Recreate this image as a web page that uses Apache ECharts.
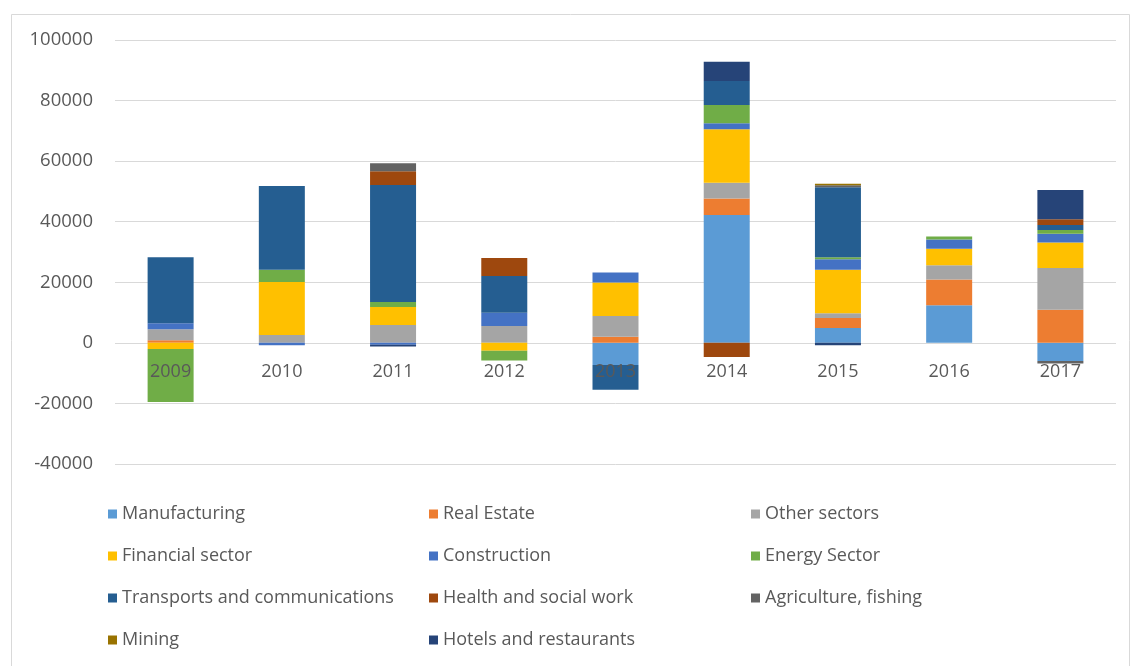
<!DOCTYPE html>
<html>
<head>
<meta charset="utf-8">
<script src="https://cdn.jsdelivr.net/npm/echarts@6/dist/echarts.min.js"></script>
<style>
html,body{margin:0;padding:0;background:#fff;}
#chart{width:1132px;height:666px;}
</style>
</head>
<body>
<div id="chart"></div>
<script>
const years = ['2009','2010','2011','2012','2013','2014','2015','2016','2017'];
const yTicks = {min: -40000, max: 100000, interval: 20000};

const manufacturing = [0, 0, 0, 0, -7300, 42200, 4900, 12400, -6000];
const realEstate    = [900, 0, 0, 0, 2000, 5500, 3300, 8500, 10900];
const otherSectors  = [3600, 2600, 5900, 5600, 6900, 5200, 1600, 4700, 13800];
const financial     = [-2000, 17500, 5900, -2600, 11000, 17600, 14300, 5500, 8400];
const construction  = [2000, -800, -600, 4300, 3300, 2000, 3500, 3000, 2900];
const energy        = [-17500, 4000, 1700, -3200, 0, 6000, 700, 1000, 1300];
const transports    = [21800, 27700, 38600, 12200, -8200, 8000, 23100, 0, 1600];
const health        = [0, 0, 4600, 5900, 0, -4700, 0, 0, 1900];
const agriculture   = [0, 0, 2600, 0, 0, 0, 600, 0, -800];
const mining        = [0, 0, 0, 0, 0, 0, 500, 0, 0];
const hotels        = [0, 0, -600, 0, 0, 6300, -800, 0, 9700];

const seriesDefs = [
  ['Manufacturing', manufacturing, '#5B9BD5'],
  ['Real Estate', realEstate, '#ED7D31'],
  ['Other sectors', otherSectors, '#A5A5A5'],
  ['Financial sector', financial, '#FFC000'],
  ['Construction', construction, '#4472C4'],
  ['Energy Sector', energy, '#70AD47'],
  ['Transports and communications', transports, '#255E91'],
  ['Health and social work', health, '#9E480E'],
  ['Agriculture, fishing', agriculture, '#636363'],
  ['Mining', mining, '#997300'],
  ['Hotels and restaurants', hotels, '#264478']
];

const FONT = 'Open Sans';
const TXT = '#595959';

const legendCols = [
  {left: 103, names: ['Manufacturing', 'Financial sector', 'Transports and communications', 'Mining']},
  {left: 424, names: ['Real Estate', 'Construction', 'Health and social work', 'Hotels and restaurants']},
  {left: 746, names: ['Other sectors', 'Energy Sector', 'Agriculture, fishing']}
];

const chart = echarts.init(document.getElementById('chart'), null, {renderer: 'canvas'});
chart.setOption({
  backgroundColor: '#fff',
  animation: false,
  graphic: [{
    type: 'rect', left: 9, top: 12, z: -1,
    shape: {width: 1118, height: 680},
    style: {fill: 'none', stroke: '#D9D9D9', lineWidth: 1}
  }],
  grid: {left: 115, right: 16, top: 40, bottom: 202},
  legend: legendCols.map(c => ({
    orient: 'vertical',
    left: c.left,
    top: 499,
    data: c.names,
    icon: 'rect',
    itemWidth: 9,
    itemHeight: 9,
    itemGap: 22,
    selectedMode: false,
    textStyle: {fontFamily: FONT, fontSize: 18, color: TXT, lineHeight: 20}
  })),
  xAxis: {
    type: 'category',
    data: years,
    z: 10,
    offset: -121,
    axisLine: {show: false},
    axisTick: {show: false},
    axisLabel: {fontFamily: FONT, fontSize: 18, color: TXT, margin: 20}
  },
  yAxis: {
    type: 'value',
    min: yTicks.min, max: yTicks.max, interval: yTicks.interval,
    axisLine: {show: false},
    axisTick: {show: false},
    splitLine: {lineStyle: {color: '#D9D9D9'}},
    axisLabel: {fontFamily: FONT, fontSize: 18.5, color: TXT, margin: 22,
      formatter: v => String(v)}
  },
  series: seriesDefs.map(([name, data, color]) => ({
    name, type: 'bar', stack: 'total', data,
    barWidth: 46,
    itemStyle: {color}
  }))
});
</script>
</body>
</html>
